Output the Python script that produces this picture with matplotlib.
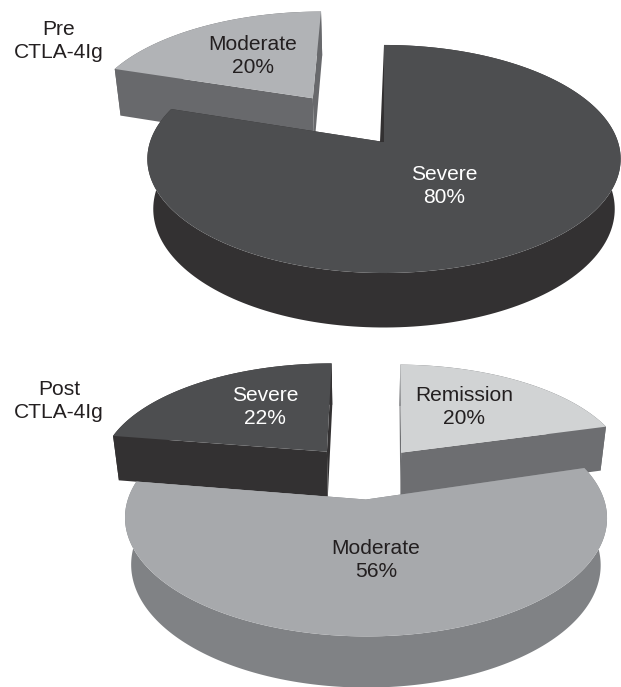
import numpy as np
import matplotlib
matplotlib.use('Agg')
import matplotlib.pyplot as plt

plt.rcParams['font.family'] = ['Liberation Sans', 'DejaVu Sans']

# percentages per disease class, in clockwise order from 12 o'clock
pre_labels = ["Severe", "Moderate"]
pre_values = [80, 20]
pre_top = ["#4d4e50", "#b1b3b6"]
pre_side = ["#333132", "#68696c"]
pre_explode = [0.0, 0.515]
pre_shift = [(0, 0), (-4.5, 0)]
pre_turn = [0, 0]

post_labels = ["Remission", "Moderate", "Severe"]
post_values = [20, 56, 22]
post_top = ["#d1d3d4", "#a7a9ac", "#4d4e50"]
post_side = ["#6d6e71", "#808285", "#333132"]
post_explode = [0.257, 0.257, 0.257]
post_shift = [(2, 3), (-3, 0), (-1, 1)]
post_turn = [1, 0, 0]

K = 0.149      # foreshortening towards the back of the pie
SHRINK = 0.025 # foreshortening of the lower rim


def project(u, v, z, view):
    cx, cy, a, b, d = view
    s = 1 / (1 + K * v + SHRINK * z)
    return cx + a * u * s, cy + (-b * v + d * z) * s


def slice_arcs(values):
    edges = np.cumsum([0] + list(values)) / sum(values) * 2 * np.pi
    return edges[:-1], edges[1:]


def draw_slice(ax, start, stop, explode, top, side, view, shift, turn):
    mid = (start + stop) / 2
    ox, oy = explode * np.sin(mid), explode * np.cos(mid)
    start = start + np.radians(turn)
    stop = stop + np.radians(turn)
    view = (view[0] + shift[0], view[1] + shift[1]) + view[2:]
    th = np.linspace(start, stop, 200)
    u = ox + np.sin(th)
    v = oy + np.cos(th)

    # side walls first, top face goes over them
    for t in [start, stop]:
        ru = np.array([ox, ox + np.sin(t), ox + np.sin(t), ox])
        rv = np.array([oy, oy + np.cos(t), oy + np.cos(t), oy])
        rz = np.array([0, 0, 1, 1])
        ax.fill(*project(ru, rv, rz, view), color=side, lw=0)
    x0, y0 = project(u, v, 0, view)
    x1, y1 = project(u, v, 1, view)
    ax.fill(np.r_[x0, x1[::-1]], np.r_[y0, y1[::-1]], color=side, lw=0)

    tx, ty = project(np.r_[ox, u], np.r_[oy, v], 0, view)
    ax.fill(tx, ty, color=top, lw=0)
    return tx, ty


def draw_pie(ax, values, tops, sides, explode, shifts, turns, order, view):
    starts, stops = slice_arcs(values)
    faces = {}
    for i in order:
        faces[i] = draw_slice(ax, starts[i], stops[i], explode[i], tops[i], sides[i],
                              view, shifts[i], turns[i])
    return faces


fig = plt.figure(figsize=(6.21, 6.87), dpi=100)
ax = fig.add_axes([0, 0, 1, 1])
ax.set_xlim(0, 621)
ax.set_ylim(687, 0)
ax.axis('off')

pre_faces = draw_pie(ax, pre_values, pre_top, pre_side, pre_explode, pre_shift, pre_turn,
                     [1, 0], (384, 142, 234, 111.5, 51))
draw_pie(ax, post_values, post_top, post_side, post_explode, post_shift, post_turn,
         [0, 2, 1], (365, 471, 229, 107, 47))

# thin dark lip of the inner wall on the big slice
tx, ty = pre_faces[0]
ax.fill([tx[0], tx[1], tx[0] - 4], [ty[0], ty[1], ty[0]], color=pre_side[0], lw=0)

fs = 15.1
ls = 1.28
dark = "#231f20"
ax.text(59, 41, "Pre\nCTLA-4Ig", ha='center', va='center', fontsize=fs, color=dark, linespacing=ls)
ax.text(59, 401, "Post\nCTLA-4Ig", ha='center', va='center', fontsize=fs, color=dark, linespacing=ls)

ax.text(253, 56, f"{pre_labels[1]}\n{pre_values[1]}%", ha='center', va='center', fontsize=fs, color=dark, linespacing=ls)
ax.text(444, 186, f"{pre_labels[0]}\n{pre_values[0]}%", ha='center', va='center', fontsize=fs, color="white", linespacing=ls)
ax.text(265, 407, f"{post_labels[2]}\n{post_values[2]}%", ha='center', va='center', fontsize=fs, color="white", linespacing=ls)
ax.text(464, 407, f"{post_labels[0]}\n{post_values[0]}%", ha='center', va='center', fontsize=fs, color=dark, linespacing=ls)
ax.text(376, 560, f"{post_labels[1]}\n{post_values[1]}%", ha='center', va='center', fontsize=fs, color=dark, linespacing=ls)

fig.savefig("out.png", dpi=100)
